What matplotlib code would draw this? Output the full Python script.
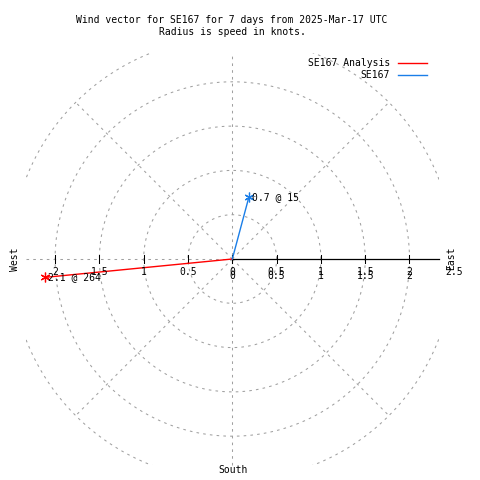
import numpy as np
import matplotlib
matplotlib.use("Agg")
import matplotlib.pyplot as plt
from matplotlib.patches import Rectangle

# data
series = ["SE167 Analysis", "SE167"]
speed = [2.12, 0.72]          # knots
direction = [264.4, 15.0]     # degrees, compass
colors = ["#ff0000", "#1a7ee8"]
rings = [0.5, 1.0, 1.5, 2.0, 2.5]
spokes = [45, 135, 225, 315]
left_ticks = [-2, -1.5, -1, -0.5, 0]
right_ticks = [0, 0.5, 1, 1.5, 2]
title = "Wind vector for SE167 for 7 days from 2025-Mar-17 UTC\nRadius is speed in knots."

plt.rcParams['font.family'] = ['DejaVu Sans Mono']
fs = 7

fig = plt.figure(figsize=(4.8, 4.8), dpi=100)
ax = fig.add_axes([0, 0, 1, 1])
cx, cy, s = 232.3, 259.0, 88.6
ax.set_xlim(-cx / s, (480 - cx) / s)
ax.set_ylim(-(480 - cy) / s, cy / s)
ax.axis('off')

rmax = 2.33
clip = Rectangle((-rmax, -rmax), 2 * rmax, 2 * rmax, transform=ax.transData)
grid_kw = dict(color='#a0a0a0', lw=0.75, dashes=(2.5, 4))

th = np.linspace(0, 2 * np.pi, 721)
for r in rings:
    ln, = ax.plot(r * np.cos(th), r * np.sin(th), **grid_kw)
    ln.set_clip_path(clip)
for a in spokes:
    ln, = ax.plot([0, 2.5 * np.cos(np.radians(a))], [0, 2.5 * np.sin(np.radians(a))], **grid_kw)
    ln.set_clip_path(clip)
ax.plot([0, 0], [-rmax, rmax], **grid_kw)
ax.plot([-rmax, 0], [0, 0], **grid_kw)
ax.plot([0, rmax], [0, 0], color='black', lw=0.9)

tk = 4 / s
for t in left_ticks + right_ticks:
    ax.plot([t, t], [-tk, tk], color='black', lw=0.75)

def fmt(v):
    return f"{abs(v):g}"

for t in left_ticks + right_ticks[1:]:
    ax.text(t, (cy - 272) / s, fmt(t), fontsize=fs, ha='center', va='center')
for t in right_ticks:
    ax.text(t, (cy - 276) / s, fmt(t), fontsize=fs, ha='center', va='center')
ax.text(2.5, (cy - 272) / s, "2.5", fontsize=fs, ha='center', va='center')

fig.text(451 / 480, 1 - 258 / 480, "East", fontsize=fs, rotation=90, ha='center', va='center')
fig.text(15 / 480, 1 - 259 / 480, "West", fontsize=fs, rotation=90, ha='center', va='center')
fig.text(233 / 480, 1 - 470 / 480, "South", fontsize=fs, ha='center', va='center')
fig.text(232 / 480, 1 - 26 / 480, title, fontsize=fs, ha='center', va='center', linespacing=1.2)

for i, name in enumerate(series):
    d = np.radians(direction[i])
    x, y = speed[i] * np.sin(d), speed[i] * np.cos(d)
    ax.plot([0, x], [0, y], color=colors[i], lw=1.0)
    ax.plot([x], [y], marker=(6, 2, 0), color=colors[i], ms=7, mew=0.9)
    ax.annotate(f"{speed[i]:.1f} @ {direction[i]:.0f}", (x, y), xytext=(2, 0),
                textcoords='offset points', fontsize=fs, ha='left', va='center')
    ly = 1 - (63 + 12 * i) / 480
    fig.text(390 / 480, ly, name, fontsize=fs, ha='right', va='center')
    fig.add_artist(plt.Line2D([398 / 480, 427 / 480], [ly, ly], color=colors[i], lw=1.0))

fig.savefig("out.png", dpi=100)
